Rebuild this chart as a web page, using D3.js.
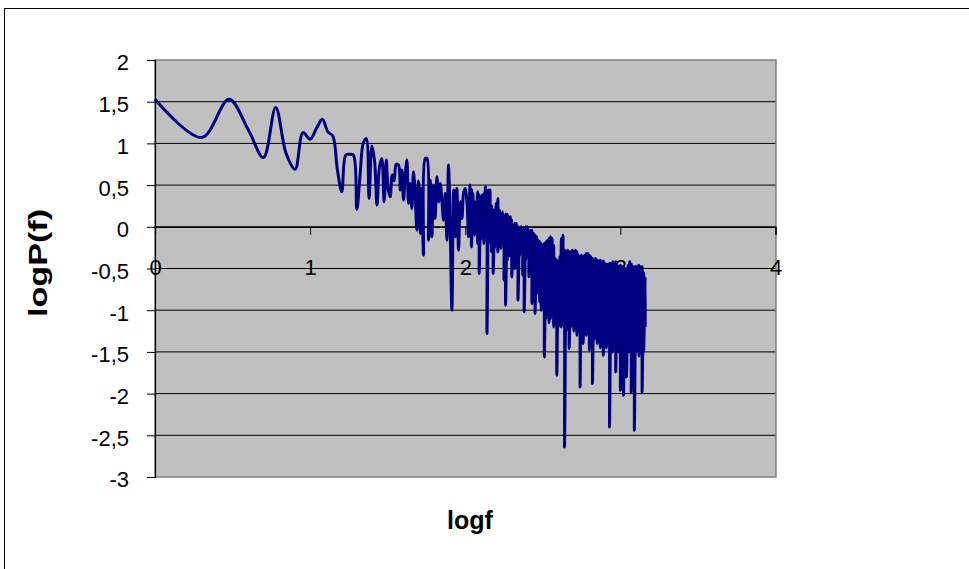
<!DOCTYPE html>
<html>
<head>
<meta charset="utf-8">
<script src="https://cdn.jsdelivr.net/npm/d3@7"></script>
<style>
  html, body { margin: 0; padding: 0; background: #fff; }
  svg { display: block; font-family: Arial, "Liberation Sans", sans-serif; }
</style>
</head>
<body>
<svg id="chart" width="969" height="569"></svg>
<script>
// Low-frequency part of the power spectrum: log10 of frequency and log10 of power
const logf = [
  0, 0.301, 0.477, 0.602, 0.699, 0.778, 0.845, 0.903, 0.954, 1.000,
  1.041, 1.079, 1.114, 1.146, 1.176, 1.204, 1.230, 1.255, 1.279, 1.301,
  1.322, 1.342, 1.362, 1.380, 1.398, 1.415, 1.431, 1.447, 1.462, 1.477,
  1.491,
  1.503, 1.516, 1.529, 1.542, 1.555, 1.570, 1.581, 1.592, 1.602, 1.613,
  1.624, 1.634, 1.645, 1.656, 1.666, 1.677, 1.688, 1.697, 1.703, 1.710,
  1.719, 1.731, 1.742, 1.753, 1.763, 1.774, 1.785, 1.795, 1.806, 1.817,
  1.828, 1.839, 1.850, 1.860, 1.871, 1.882, 1.892, 1.903, 1.914, 1.925,
  1.935, 1.946, 1.957, 1.968, 1.979, 1.989, 2.000, 2.011, 2.021
];
const logP = [
  1.53, 1.07, 1.53, 1.16, 0.83, 1.43, 0.88, 0.69, 1.13, 1.05,
  1.18, 1.29, 1.14, 1.09, 0.68, 0.42, 0.86, 0.87, 0.86, 0.21,
  0.62, 1.00, 1.06, 0.34, 0.97, 0.80, 0.26, 0.72, 0.82, 0.30,
  0.80,
  0.45, 0.36, 0.62, 0.55, 0.75, 0.74, 0.44, 0.68, 0.32, 0.62,
  0.80, 0.28, 0.52, 0.22, 0.66, 0.40, -0.04, 0.55, 0.48, -0.08,
  0.46, -0.34, 0.82, 0.82, -0.16, 0.56, -0.12, 0.50, 0.10, 0.60,
  0.30, 0.52, 0.30, 0.08, 0.40, -0.16, 0.74, 0.00, -1.00, 0.44,
  -0.12, 0.46, -0.28, 0.30, 0.10, 0.40, 0.46, 0.30, -0.12
];

// High-frequency part: in each narrow logf column the spectrum swings
// between a high and a low value
const bandLogf = [
  2.03, 2.04, 2.05, 2.06, 2.07, 2.08, 2.09, 2.10, 2.11, 2.12,
  2.13, 2.14, 2.15, 2.16, 2.17, 2.18, 2.19, 2.20, 2.21, 2.22,
  2.23, 2.24, 2.25, 2.26, 2.27, 2.28, 2.29, 2.30, 2.31, 2.32,
  2.33, 2.34, 2.35, 2.36, 2.37, 2.38, 2.39, 2.40, 2.41, 2.42,
  2.43, 2.44, 2.45, 2.46, 2.47, 2.48, 2.49, 2.50, 2.51, 2.52,
  2.53, 2.54, 2.55, 2.56, 2.57, 2.58, 2.59, 2.60, 2.61, 2.62,
  2.63, 2.64, 2.65, 2.66, 2.67, 2.68, 2.69, 2.70, 2.71, 2.72,
  2.73, 2.74, 2.75, 2.76, 2.77, 2.78, 2.79, 2.80, 2.81, 2.82,
  2.83, 2.84, 2.85, 2.86, 2.87, 2.88, 2.89, 2.90, 2.91, 2.92,
  2.93, 2.94, 2.95, 2.96, 2.97, 2.98, 2.99, 3.00, 3.01, 3.02,
  3.03, 3.04, 3.05, 3.06, 3.07, 3.08, 3.09, 3.10, 3.11, 3.12,
  3.13, 3.14, 3.15, 3.16
];
const bandHigh = [
  0.50, 0.45, 0.40, 0.30, 0.30, 0.42, 0.38, 0.35, 0.38, 0.40,
  0.48, 0.40, 0.44, 0.44, 0.25, 0.20, 0.20, 0.28, 0.34, 0.20,
  0.15, 0.18, 0.12, 0.15, 0.15, 0.12, 0.12, 0.08, 0.02, 0.04,
  0.04, 0.00, -0.02, 0.00, -0.05, -0.02, 0.00, 0.00, -0.05, -0.04,
  -0.04, -0.08, -0.10, -0.12, -0.16, -0.18, -0.20, -0.22, -0.20, -0.18,
  -0.16, -0.14, -0.12, -0.14, -0.22, -0.38, -0.40, -0.42, -0.36, -0.14,
  -0.10, -0.28, -0.30, -0.28, -0.30, -0.30, -0.28, -0.30, -0.28, -0.30,
  -0.34, -0.36, -0.34, -0.36, -0.34, -0.32, -0.32, -0.34, -0.36, -0.38,
  -0.40, -0.38, -0.40, -0.41, -0.40, -0.42, -0.41, -0.44, -0.45, -0.45,
  -0.44, -0.44, -0.42, -0.44, -0.42, -0.46, -0.48, -0.46, -0.50, -0.48,
  -0.50, -0.50, -0.46, -0.42, -0.45, -0.48, -0.48, -0.48, -0.47, -0.46,
  -0.48, -0.48, -0.55, -0.60
];
const bandLow = [
  0.10, -0.24, 0.05, -0.10, 0.06, -0.20, -0.56, -0.15, 0.00, -0.20,
  -0.10, -1.28, -0.20, -0.10, -0.30, -0.56, -0.25, -0.10, -0.30, -0.10,
  -0.26, -0.20, -0.64, -0.94, -0.40, -0.30, -0.35, -0.60, -0.30, -0.50,
  -0.40, -0.88, -0.35, -0.22, -0.58, -1.02, -0.40, -0.30, -0.60, -0.50,
  -0.92, -0.70, -1.04, -0.80, -0.75, -0.90, -1.00, -0.95, -1.56, -1.10,
  -1.00, -1.15, -1.10, -1.05, -1.20, -1.15, -1.78, -1.20, -1.10, -1.20,
  -1.15, -2.64, -1.25, -1.10, -1.46, -1.20, -1.15, -1.25, -1.20, -1.30,
  -1.25, -1.92, -1.30, -1.40, -1.25, -1.30, -1.20, -1.48, -1.30, -1.88,
  -1.35, -1.30, -1.40, -1.35, -1.45, -1.35, -1.54, -1.40, -1.45, -1.35,
  -2.40, -1.45, -1.50, -1.40, -1.74, -1.45, -1.50, -1.96, -1.45, -2.02,
  -1.50, -1.80, -1.45, -1.50, -1.98, -1.45, -2.44, -1.50, -1.40, -1.55,
  -1.45, -1.98, -1.50, -1.20
];

// Axis ticks
const xTicks = [0, 1, 2, 3, 4];
const yTicks = [2, 1.5, 1, 0.5, 0, -0.5, -1, -1.5, -2, -2.5, -3];
const xTitle = "logf";
const yTitle = "logP(f)";

const svg = d3.select("#chart");
const W = 969, H = 569;
const plot = { left: 155, right: 776, top: 60, bottom: 477 };

const x = d3.scaleLinear().domain([0, 4]).range([plot.left, plot.right - 0.5]);
const y = d3.scaleLinear().domain([-3, 2]).range([plot.bottom, plot.top]);

const locale = d3.formatLocale({ decimal: ",", thousands: ".", grouping: [3], currency: ["", ""], minus: "-" });
const fmt = locale.format("");

// Chart frame
svg.append("rect")
  .attr("x", 4.5).attr("y", 8.5)
  .attr("width", W + 20).attr("height", H + 20)
  .attr("fill", "#fff").attr("stroke", "#000").attr("stroke-width", 1);

// Plot area
svg.append("rect")
  .attr("x", plot.left).attr("y", plot.top)
  .attr("width", plot.right - plot.left).attr("height", plot.bottom - plot.top)
  .attr("fill", "#c0c0c0");

// Horizontal gridlines
svg.append("g").selectAll("line")
  .data(yTicks.filter(v => v > -3 && v < 2))
  .join("line")
  .attr("x1", plot.left).attr("x2", plot.right)
  .attr("y1", d => y(d)).attr("y2", d => y(d))
  .attr("stroke", "#000").attr("stroke-width", 1);

// Plot area border
svg.append("rect")
  .attr("x", plot.left).attr("y", plot.top)
  .attr("width", plot.right - plot.left).attr("height", plot.bottom - plot.top)
  .attr("fill", "none").attr("stroke", "#808080").attr("stroke-width", 1.5);

// Y axis
const yAxis = d3.axisLeft(y).tickValues(yTicks).tickFormat(fmt).tickSize(8).tickPadding(18);
const gy = svg.append("g").attr("transform", `translate(${plot.left},0)`).call(yAxis);
gy.select(".domain").attr("stroke", "#000").attr("stroke-width", 1.2);
gy.selectAll(".tick line").attr("stroke", "#000");
gy.selectAll(".tick text")
  .attr("font-family", "Arial, 'Liberation Sans', sans-serif")
  .attr("font-size", 22).attr("fill", "#000").attr("dy", "0.45em");

// X axis drawn at logP = 0
const xAxis = d3.axisBottom(x).tickValues(xTicks).tickFormat(fmt).tickSize(8).tickPadding(25);
const gx = svg.append("g").attr("transform", `translate(0,${y(0)})`).call(xAxis);
gx.select(".domain").attr("stroke", "#000").attr("stroke-width", 1.2);
gx.selectAll(".tick line").attr("stroke", "#000");
gx.selectAll(".tick text")
  .attr("font-family", "Arial, 'Liberation Sans', sans-serif")
  .attr("font-size", 22).attr("fill", "#000");

// Spectrum line
const pts = logf.map((v, i) => [v, logP[i]]);
bandLogf.forEach((v, i) => { pts.push([v, bandHigh[i]]); pts.push([v, bandLow[i]]); });

const line = d3.line()
  .x(d => x(d[0])).y(d => y(d[1]))
  .curve(d3.curveCatmullRom.alpha(0.5));

svg.append("path")
  .attr("d", line(pts))
  .attr("fill", "none")
  .attr("stroke", "#000080")
  .attr("stroke-width", 3)
  .attr("stroke-linejoin", "round");

// Axis titles
svg.append("text")
  .attr("x", 470).attr("y", 529)
  .attr("text-anchor", "middle")
  .attr("font-weight", "bold").attr("font-size", 25)
  .text(xTitle);

svg.append("text")
  .attr("transform", `translate(47,263) rotate(-90)`)
  .attr("text-anchor", "middle")
  .attr("font-weight", "bold").attr("font-size", 25)
  .attr("textLength", 108).attr("lengthAdjust", "spacingAndGlyphs")
  .text(yTitle);
</script>
</body>
</html>
